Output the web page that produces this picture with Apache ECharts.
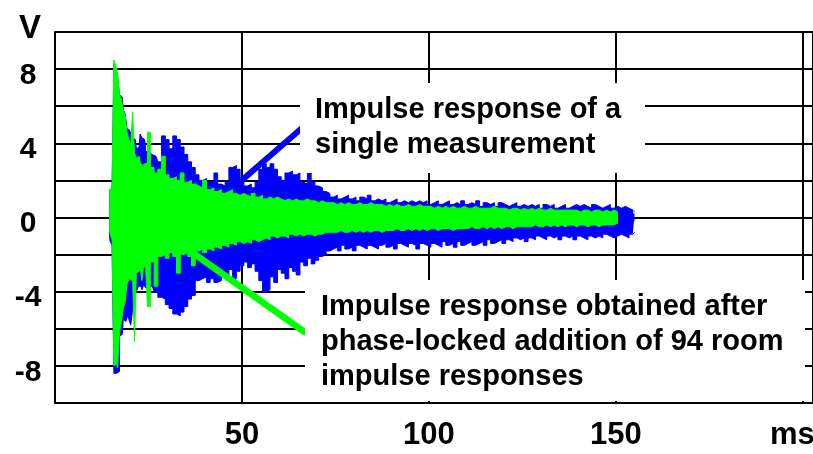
<!DOCTYPE html>
<html><head><meta charset="utf-8">
<script src="https://cdn.jsdelivr.net/npm/echarts@6/dist/echarts.min.js"></script>
<style>html,body{margin:0;padding:0;background:#fff}#c{width:813px;height:454px}</style>
</head><body><div id="c"></div>
<script>
// time axis (ms)
const timeMs = [14.5,15,15.5,16,16.5,17,17.5,18,18.5,19,19.5,20,20.5,21,21.5,22,22.5,23,23.5,24,24.5,25,
26,27,28,29,30,31,32,33,34,35,36,37,38,39,40,41,42,43,44,45,46,47,48,49,50,51,52,53,54,55,56,57,58,59,60,61,62,63,64,65,66,67,68,69,70,71,72,
73,74,75,76,77,78,79,80,81,82,83,84,85,86,87,88,89,90,91,92,93,94,95,96,97,98,99,100,101,102,103,104,105,106,107,108,109,110,111,112,
113,114,115,116,117,118,119,120,121,122,123,124,125,126,127,128,129,130,131,132,133,134,135,136,137,138,139,140,141,142,143,144,145,146,
147,148,149,150,151,152,153,154,155];

// single measurement (blue): upper / lower envelope in V
const blueUpper = [1.4,1.5,1.6,8.3,8.0,7.6,6.6,6.5,5.8,5.6,4.8,4.7,4.5,4.3,4.2,3.7,3.8,4.5,4.3,4.2,3.6,3.5,
3.4,3.3,3.0,4.4,4.2,3.7,4.4,4.2,3.8,3.4,3.0,2.7,2.3,2.0,2.1,1.9,2.0,2.4,1.8,1.7,1.9,2.7,2.8,2.6,1.9,1.7,1.8,1.6,1.9,2.6,2.9,2.7,2.9,2.6,2.2,2.0,2.4,2.5,2.3,2.4,1.9,1.8,2.5,1.9,1.7,1.6,1.4,
1.3,1.1,1.2,1.0,1.1,1.2,1.0,1.1,0.9,1.1,1.0,1.2,0.9,1.0,0.9,1.0,0.8,0.9,1.0,0.8,0.9,0.8,0.9,0.8,0.9,0.8,0.9,0.7,0.8,0.9,0.7,0.8,0.9,0.7,0.8,0.7,0.9,0.7,0.8,0.7,
0.9,0.6,0.8,0.7,0.8,0.6,0.8,0.7,0.6,0.7,0.8,0.6,0.7,0.6,0.7,0.6,0.7,0.5,0.7,0.6,0.7,0.5,0.6,0.7,0.5,0.6,0.7,0.6,0.7,0.6,0.5,0.7,0.6,0.5,
0.6,0.7,0.5,0.6,0.5,0.6,0.5,0.4,0.3];
const blueLower = [-0.8,-1.3,-1.5,-8.4,-8.4,-8.3,-6.4,-6.3,-5.5,-5.6,-5.3,-5.5,-5.8,-5.0,-4.0,-3.9,-3.7,-3.7,-3.9,-3.6,-3.8,-3.7,
-3.7,-4.0,-4.3,-4.4,-4.7,-4.9,-5.2,-5.3,-5.1,-4.8,-4.4,-4.2,-3.4,-3.3,-3.2,-3.5,-3.3,-3.5,-3.4,-3.0,-3.2,-2.8,-3.3,-2.9,-2.6,-2.4,-2.7,-2.5,-2.9,-3.4,-4.0,-3.9,-3.2,-3.5,-2.8,-3.0,-3.3,-2.7,-2.9,-3.1,-2.4,-2.6,-2.2,-2.5,-2.3,-2.1,-2.0,
-1.8,-1.7,-1.6,-1.8,-1.5,-1.7,-1.6,-1.8,-1.5,-1.6,-1.7,-1.5,-1.6,-1.7,-1.5,-1.4,-1.6,-1.5,-1.7,-1.4,-1.5,-1.6,-1.4,-1.5,-1.7,-1.4,-1.5,-1.6,-1.4,-1.5,-1.6,-1.3,-1.5,-1.4,-1.6,-1.3,-1.5,-1.4,-1.3,-1.5,
-1.4,-1.3,-1.5,-1.2,-1.4,-1.3,-1.2,-1.4,-1.2,-1.3,-1.1,-1.2,-1.1,-1.3,-1.1,-1.2,-1.0,-1.1,-1.2,-1.0,-1.1,-1.0,-1.2,-1.0,-1.1,-1.0,-1.2,-1.0,-1.1,-1.2,-1.0,-1.1,-1.0,-1.1,
-0.9,-1.0,-1.1,-1.0,-0.9,-1.0,-1.1,-0.9,-0.8];

// phase-locked addition of 94 responses (green): upper / lower envelope in V
const greenUpper = [1.5,1.6,1.6,8.5,8.2,7.7,6.6,6.4,5.8,5.5,4.6,4.2,3.9,5.7,3.5,3.2,3.3,3.0,2.8,2.9,2.9,4.6,
2.7,2.4,2.6,3.3,2.3,2.1,2.2,2.0,2.4,1.9,2.0,1.8,1.7,1.6,2.0,1.5,1.6,1.4,1.5,1.3,1.4,1.5,1.3,1.2,1.3,1.2,1.1,1.3,1.1,1.2,1.0,1.1,1.0,1.1,1.0,0.9,1.0,0.9,1.0,0.9,0.9,1.0,0.9,0.9,0.8,0.9,0.8,
0.8,0.8,0.7,0.8,0.7,0.8,0.7,0.7,0.8,0.7,0.7,0.8,0.7,0.7,0.7,0.6,0.7,0.6,0.7,0.6,0.6,0.7,0.6,0.6,0.7,0.6,0.6,0.6,0.5,0.6,0.5,0.6,0.5,0.6,0.5,0.5,0.6,0.5,0.5,0.6,
0.5,0.5,0.5,0.5,0.6,0.5,0.5,0.5,0.4,0.5,0.5,0.4,0.5,0.4,0.5,0.4,0.5,0.4,0.4,0.5,0.4,0.4,0.4,0.4,0.4,0.4,0.4,0.3,0.4,0.4,0.3,0.4,0.4,0.3,
0.4,0.3,0.4,0.3,null,null,null,null,null];
const greenLower = [-0.5,-0.9,-1.2,-8.0,-7.9,-8.1,-6.2,-5.6,-4.9,-4.6,-3.6,-3.3,-3.4,-3.2,-6.7,-3.0,-2.9,-2.7,-3.4,-2.5,-2.8,-4.8,
-2.4,-3.7,-2.1,-2.0,-2.2,-1.9,-2.1,-3.0,-2.0,-1.9,-2.1,-2.6,-1.8,-1.7,-1.9,-1.7,-1.8,-1.6,-1.7,-1.5,-1.6,-1.4,-1.5,-1.3,-1.4,-1.3,-1.4,-1.2,-1.3,-1.2,-1.1,-1.2,-1.0,-1.1,-1.0,-1.0,-1.1,-0.9,-1.0,-0.9,-1.0,-0.9,-0.9,-1.0,-0.9,-0.9,-0.8,
-0.8,-0.8,-0.8,-0.7,-0.8,-0.8,-0.7,-0.8,-0.7,-0.8,-0.7,-0.8,-0.7,-0.7,-0.8,-0.7,-0.7,-0.7,-0.6,-0.7,-0.7,-0.6,-0.7,-0.6,-0.7,-0.6,-0.7,-0.6,-0.6,-0.7,-0.6,-0.6,-0.6,-0.7,-0.6,-0.6,-0.6,-0.6,-0.5,-0.6,
-0.6,-0.5,-0.6,-0.5,-0.6,-0.5,-0.6,-0.5,-0.5,-0.6,-0.5,-0.5,-0.5,-0.5,-0.5,-0.4,-0.5,-0.5,-0.4,-0.5,-0.4,-0.5,-0.4,-0.5,-0.4,-0.4,-0.5,-0.4,-0.4,-0.5,-0.4,-0.4,-0.5,-0.4,
-0.4,-0.4,-0.4,-0.3,null,null,null,null,null];

// tick labels
const xTickLabels = {50: '50', 100: '100', 150: '150', 200: 'ms'};
const yTickLabels = {'-8': '-8', '-4': '-4', '0': '0', '4': '4', '8': '8'};
const yUnit = 'V';
const noteSingle = 'Impulse response of a\nsingle measurement';
const noteAveraged = 'Impulse response obtained after\nphase-locked addition of 94 room\nimpulse responses';

const FONT = '"Liberation Sans", Arial, Helvetica, sans-serif';
const BLUE = '#0000ff', GREEN = '#00ff00';

function envSeries(values, color, z, origin) {
  return {
    type: 'line', step: 'middle', symbol: 'none', showSymbol: false, silent: true, z: z,
    data: timeMs.map((t, i) => [t, values[i] == null ? '-' : values[i]]),
    lineStyle: {color: color, width: 1},
    areaStyle: {color: color, opacity: 1, origin: origin},
    connectNulls: false
  };
}

const chart = echarts.init(document.getElementById('c'), null, {renderer: 'canvas'});
chart.setOption({
  animation: false,
  backgroundColor: '#fff',
  grid: {left: 55, right: 0, top: 32, bottom: 51, containLabel: false, outerBoundsMode: 'none'},
  xAxis: {
    type: 'value', min: 0, max: 202.7, interval: 50,
    axisLine: {show: false, onZero: false}, axisTick: {show: false},
    splitLine: {show: true, lineStyle: {color: '#000', width: 2}},
    axisLabel: {
      formatter: v => v === 200 ? '{ms|' + xTickLabels[v] + '}' : (xTickLabels[v] || ''),
      fontSize: 31, fontWeight: 'bold', color: '#000', fontFamily: FONT, margin: 17,
      hideOverlap: false,
      rich: {ms: {fontSize: 31, fontWeight: 'bold', color: '#000', fontFamily: FONT, padding: [0, 21, 0, 0]}}
    }
  },
  yAxis: {
    type: 'value', min: -10, max: 10, interval: 2,
    axisLine: {show: true, onZero: false, lineStyle: {color: '#000', width: 2}},
    axisTick: {show: false},
    splitLine: {show: true, lineStyle: {color: '#000', width: 2}},
    axisLabel: {
      formatter: v => yTickLabels[String(v)] ? '{t|' + yTickLabels[String(v)] + '}' : '',
      fontSize: 30, fontWeight: 'bold', color: '#000', fontFamily: FONT,
      align: 'center', margin: 27,
      rich: {t: {fontSize: 30, fontWeight: 'bold', color: '#000', fontFamily: FONT, padding: [13, 0, 0, 0]}}
    }
  },
  series: [
    envSeries(blueUpper, BLUE, 2, -0.2),
    envSeries(blueLower, BLUE, 2, 0.2),
    envSeries(greenUpper, GREEN, 3, -0.2),
    envSeries(greenLower, GREEN, 3, 0.2)
  ],
  graphic: {elements: [
    {type: 'line', z: 100, silent: true, shape: {x1: 302, y1: 128, x2: 241, y2: 181}, style: {stroke: BLUE, lineWidth: 6}},
    {type: 'line', z: 100, silent: true, shape: {x1: 193, y1: 253, x2: 306, y2: 333}, style: {stroke: GREEN, lineWidth: 6.5}},
    {type: 'rect', z: 100, silent: true, shape: {x: 300, y: 83, width: 345, height: 90}, style: {fill: '#fff'}},
    {type: 'text', z: 101, silent: true, x: 315, y: 92, style: {text: noteSingle, font: 'bold 29px ' + FONT, fill: '#000', lineHeight: 35}},
    {type: 'rect', z: 100, silent: true, shape: {x: 305, y: 280, width: 500, height: 121}, style: {fill: '#fff'}},
    {type: 'text', z: 101, silent: true, x: 321, y: 289, style: {text: noteAveraged, font: 'bold 29px ' + FONT, fill: '#000', lineHeight: 35}},
    {type: 'text', z: 101, silent: true, x: 19, y: 12, style: {text: yUnit, font: 'bold 33px ' + FONT, fill: '#000'}}
  ]}
});
</script>
</body></html>
